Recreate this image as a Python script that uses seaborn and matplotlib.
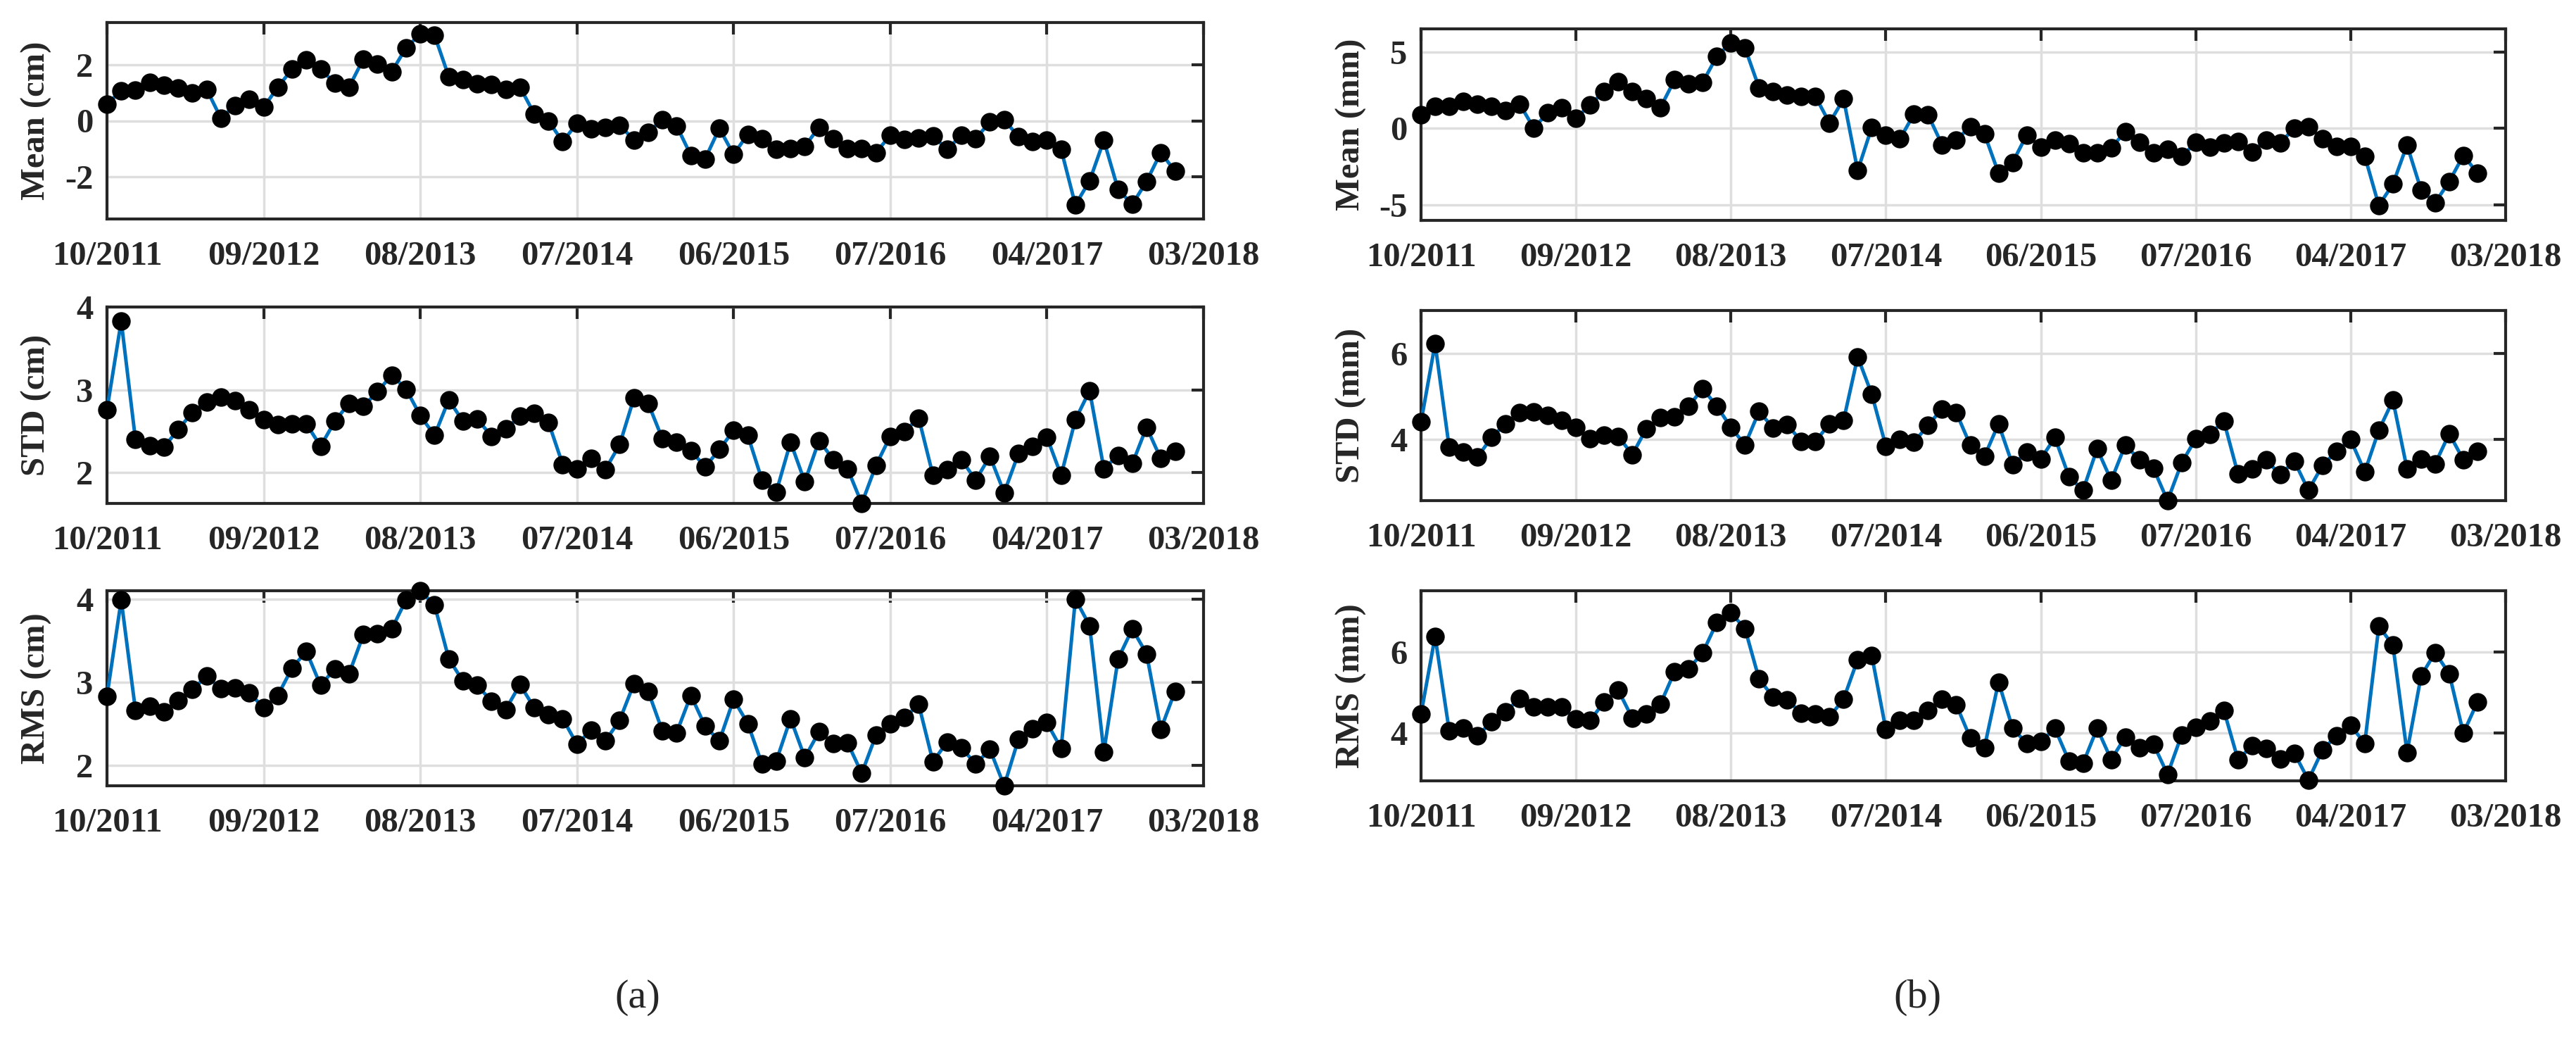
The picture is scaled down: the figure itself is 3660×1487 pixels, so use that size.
import numpy as np
import pandas as pd
import seaborn as sns
import matplotlib
matplotlib.use("Agg")
import matplotlib.pyplot as plt

# month labels shown on the x axis (every 11th epoch)
tick_labels = ['10/2011', '09/2012', '08/2013', '07/2014', '06/2015', '07/2016', '04/2017', '03/2018']

# (a) values in cm
mean_cm = [0.59, 1.07, 1.09, 1.36, 1.27, 1.16, 0.98, 1.12, 0.09, 0.54, 0.77, 0.48, 1.20, 1.84, 2.16, 1.84,
           1.34, 1.20, 2.20, 2.02, 1.75, 2.60, 3.09, 3.05, 1.57, 1.46, 1.32, 1.30, 1.12, 1.20, 0.25, 0.00,
           -0.75, -0.09, -0.29, -0.23, -0.16, -0.68, -0.41, 0.04, -0.18, -1.23, -1.36, -0.27, -1.20, -0.48,
           -0.63, -1.02, -0.98, -0.91, -0.23, -0.63, -0.98, -0.98, -1.13, -0.52, -0.66, -0.61, -0.54, -1.02,
           -0.52, -0.63, -0.05, 0.04, -0.57, -0.75, -0.70, -1.02, -3.00, -2.14, -0.70, -2.45, -2.98, -2.16,
           -1.13, -1.80]
std_cm = [2.76, 3.83, 2.40, 2.33, 2.31, 2.52, 2.73, 2.85, 2.91, 2.87, 2.76, 2.64, 2.58, 2.59, 2.59, 2.32,
          2.62, 2.84, 2.80, 2.98, 3.18, 3.01, 2.69, 2.45, 2.88, 2.62, 2.65, 2.44, 2.53, 2.68, 2.72, 2.61,
          2.10, 2.05, 2.17, 2.04, 2.34, 2.90, 2.84, 2.41, 2.37, 2.27, 2.07, 2.28, 2.51, 2.45, 1.91, 1.77,
          2.37, 1.89, 2.39, 2.16, 2.05, 1.63, 2.09, 2.44, 2.50, 2.66, 1.97, 2.04, 2.16, 1.91, 2.20, 1.76,
          2.23, 2.32, 2.43, 1.97, 2.64, 2.99, 2.05, 2.21, 2.11, 2.55, 2.17, 2.26]
rms_cm = [2.83, 3.99, 2.66, 2.71, 2.64, 2.78, 2.91, 3.07, 2.92, 2.93, 2.87, 2.69, 2.84, 3.17, 3.37, 2.96,
          3.16, 3.10, 3.57, 3.58, 3.64, 3.99, 4.10, 3.93, 3.28, 3.01, 2.96, 2.77, 2.67, 2.97, 2.69, 2.61,
          2.56, 2.25, 2.42, 2.29, 2.54, 2.98, 2.89, 2.41, 2.39, 2.84, 2.47, 2.29, 2.79, 2.50, 2.01, 2.05,
          2.56, 2.09, 2.40, 2.26, 2.27, 1.90, 2.36, 2.50, 2.57, 2.73, 2.04, 2.28, 2.21, 2.01, 2.19, 1.75,
          2.31, 2.44, 2.51, 2.20, 4.00, 3.68, 2.16, 3.28, 3.64, 3.34, 2.43, 2.89]

# (b) values in mm
mean_mm = [0.88, 1.44, 1.44, 1.76, 1.60, 1.44, 1.18, 1.60, 0.03, 1.01, 1.34, 0.65, 1.54, 2.42, 3.07, 2.42,
           1.93, 1.37, 3.17, 2.91, 3.01, 4.71, 5.59, 5.26, 2.65, 2.39, 2.16, 2.09, 2.09, 0.36, 1.93, -2.75,
           0.07, -0.42, -0.69, 0.95, 0.88, -1.08, -0.75, 0.13, -0.36, -2.91, -2.22, -0.42, -1.24, -0.75,
           -1.01, -1.60, -1.57, -1.27, -0.20, -0.88, -1.60, -1.34, -1.83, -0.92, -1.24, -0.95, -0.85, -1.54,
           -0.75, -0.95, 0.03, 0.13, -0.69, -1.18, -1.18, -1.80, -5.03, -3.63, -1.08, -4.02, -4.84, -3.46,
           -1.76, -2.91]
std_mm = [4.40, 6.23, 3.81, 3.70, 3.58, 4.04, 4.36, 4.62, 4.63, 4.56, 4.44, 4.28, 4.01, 4.09, 4.07, 3.64,
          4.25, 4.50, 4.53, 4.77, 5.18, 4.77, 4.28, 3.87, 4.65, 4.26, 4.34, 3.95, 3.95, 4.36, 4.44, 5.92,
          5.05, 3.84, 4.00, 3.93, 4.33, 4.71, 4.62, 3.86, 3.60, 4.36, 3.40, 3.70, 3.54, 4.04, 3.13, 2.81,
          3.78, 3.04, 3.87, 3.52, 3.32, 2.57, 3.45, 4.01, 4.12, 4.42, 3.19, 3.31, 3.52, 3.17, 3.49, 2.81,
          3.39, 3.72, 3.99, 3.24, 4.21, 4.91, 3.31, 3.54, 3.43, 4.13, 3.52, 3.72]
rms_mm = [4.47, 6.38, 4.06, 4.12, 3.93, 4.28, 4.52, 4.86, 4.65, 4.65, 4.64, 4.35, 4.31, 4.77, 5.06, 4.37,
          4.47, 4.72, 5.51, 5.58, 5.98, 6.72, 6.96, 6.57, 5.33, 4.89, 4.82, 4.49, 4.47, 4.40, 4.84, 5.81,
          5.91, 4.09, 4.31, 4.31, 4.56, 4.84, 4.70, 3.88, 3.65, 5.26, 4.12, 3.75, 3.79, 4.12, 3.32, 3.26,
          4.12, 3.35, 3.91, 3.65, 3.73, 2.99, 3.96, 4.15, 4.30, 4.56, 3.35, 3.69, 3.63, 3.36, 3.51, 2.85,
          3.59, 3.94, 4.19, 3.75, 6.63, 6.16, 3.53, 5.41, 5.98, 5.46, 4.00, 4.77]

W, H = 3660, 1487

# panel boxes in pixels: left, top, right, bottom
panels = [
    (mean_cm, 'Mean (cm)', (-3.5, 3.5), [-2, 0, 2], (152, 32, 1710, 311)),
    (std_cm, 'STD (cm)', (1.63, 4.0), [2, 3, 4], (152, 436, 1710, 715)),
    (rms_cm, 'RMS (cm)', (1.75, 4.1), [2, 3, 4], (152, 839, 1710, 1116)),
    (mean_mm, 'Mean (mm)', (-6.0, 6.5), [-5, 0, 5], (2019, 41, 3560, 313)),
    (std_mm, 'STD (mm)', (2.57, 7.0), [4, 6], (2019, 441, 3560, 711)),
    (rms_mm, 'RMS (mm)', (2.83, 7.5), [4, 6], (2019, 839, 3560, 1109)),
]

sns.set_style("white")
plt.rcParams['font.family'] = ['Liberation Serif', 'DejaVu Serif']
plt.rcParams['axes.unicode_minus'] = False

dark = '#262626'
fig = plt.figure(figsize=(W / 100, H / 100), dpi=100)

for vals, label, ylim, yticks, (l, t, r, b) in panels:
    ax = fig.add_axes([l / W, (H - b) / H, (r - l) / W, (b - t) / H])
    df = pd.DataFrame({'epoch': np.arange(len(vals)), 'value': vals})
    sns.lineplot(data=df, x='epoch', y='value', ax=ax, color='#0072BD', linewidth=3.6,
                 marker='o', markersize=19, markerfacecolor='black', markeredgecolor='black',
                 markeredgewidth=0, zorder=3, clip_on=False)
    ax.set_xlim(0, 77)
    ax.set_ylim(*ylim)
    ax.set_xticks(np.arange(0, 78, 11))
    ax.set_xticklabels(tick_labels)
    ax.set_yticks(yticks)
    ax.set_xlabel('')
    ax.set_ylabel(label, fontsize=35, fontweight='bold', color=dark)
    ax.yaxis.set_label_coords(-0.05, 0.5)
    ax.grid(True, color='#dedede', linewidth=2.5)
    ax.set_axisbelow(True)
    for sp in ax.spines.values():
        sp.set_visible(True)
        sp.set_color(dark)
        sp.set_linewidth(3)
    ax.tick_params(axis='both', direction='in', length=12, width=3, color=dark,
                   top=True, right=True, labelsize=35, labelcolor=dark)
    ax.tick_params(axis='x', pad=22)
    ax.tick_params(axis='y', pad=14)
    for lab in ax.get_xticklabels() + ax.get_yticklabels():
        lab.set_fontweight('bold')

fig.text(906 / W, 1 - 1417 / H, '(a)', fontsize=42, ha='center', va='center', color=dark)
fig.text(2724 / W, 1 - 1417 / H, '(b)', fontsize=42, ha='center', va='center', color=dark)

fig.savefig('out.png', dpi=100)
